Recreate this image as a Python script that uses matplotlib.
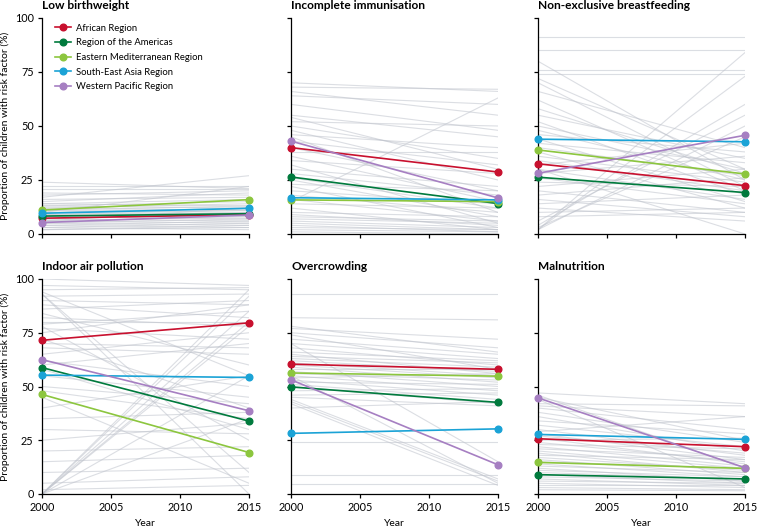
import numpy as np
import matplotlib
matplotlib.use("Agg")
import matplotlib.pyplot as plt

plt.rcParams['font.family'] = ['Lato', 'DejaVu Sans']

years = [2000, 2015]
regions = ['African Region', 'Region of the Americas', 'Eastern Mediterranean Region',
           'South-East Asia Region', 'Western Pacific Region']
region_colors = ['#c8102e', '#007a3d', '#8cc63e', '#1ba3d6', '#a67fc2']

titles = ['Low birthweight', 'Incomplete immunisation', 'Non-exclusive breastfeeding',
          'Indoor air pollution', 'Overcrowding', 'Malnutrition']

# regional values, (2000, 2015) per region, in region order
lbw_regions = [(7.3, 9.0), (8.3, 9.4), (11.1, 15.9), (9.6, 11.9), (5.3, 8.8)]
imm_regions = [(40.0, 28.7), (26.4, 14.1), (15.8, 15.0), (16.8, 15.8), (43.0, 16.7)]
bf_regions = [(32.5, 22.4), (26.3, 19.2), (38.9, 27.8), (43.9, 42.7), (28.1, 45.7)]
iap_regions = [(71.5, 79.6), (58.8, 33.9), (46.3, 19.3), (55.3, 54.2), (62.5, 38.7)]
oc_regions = [(60.4, 58.0), (49.8, 42.6), (56.3, 54.8), (28.2, 30.3), (53.1, 13.6)]
mn_regions = [(25.7, 22.0), (9.0, 7.0), (14.7, 11.9), (27.7, 25.4), (44.7, 12.2)]

# country values (grey), 2000 and 2015
lbw_2000 = [24, 22, 21, 19, 18, 17, 16, 15, 14, 13, 13, 12, 12, 11, 11, 10, 10, 9, 9, 8, 8, 7, 7, 6, 6, 5, 5, 4, 4, 3, 3, 2, 2, 10, 14, 6]
lbw_2015 = [21, 22, 21, 18, 20, 27, 17, 19, 13, 15, 12, 14, 11, 13, 10, 12, 9, 11, 8, 10, 7, 9, 6, 8, 5, 7, 4, 6, 3, 5, 2, 4, 3, 22, 16, 12]

imm_2000 = [70, 68, 66, 64, 55, 54, 52, 50, 48, 46, 45, 43, 40, 38, 36, 34, 32, 30, 28, 26, 25, 23, 22, 20, 18, 16, 14, 12, 10, 9, 8, 7, 6, 5, 4, 3, 2, 1, 15, 60]
imm_2015 = [66, 67, 55, 60, 45, 30, 50, 35, 25, 40, 10, 32, 20, 38, 15, 28, 5, 22, 18, 12, 8, 20, 3, 14, 10, 6, 12, 2, 8, 4, 6, 5, 3, 2, 1, 2, 1, 0, 63, 48]

bf_2000 = [91, 85, 80, 76, 74, 72, 70, 66, 62, 58, 55, 52, 50, 48, 46, 44, 42, 40, 38, 36, 34, 32, 30, 28, 26, 24, 22, 20, 18, 16, 14, 12, 10, 8, 6, 4, 2, 2, 2, 3, 30]
bf_2015 = [91, 85, 25, 76, 74, 30, 22, 40, 20, 28, 35, 18, 30, 25, 38, 15, 33, 27, 12, 24, 20, 42, 16, 36, 14, 22, 30, 10, 26, 8, 18, 6, 12, 10, 55, 60, 84, 73, 50, 45, 0]

iap_2000 = [100, 97, 95, 94, 93, 93, 92, 90, 88, 86, 84, 82, 80, 79, 78, 77, 75, 72, 70, 68, 65, 62, 60, 58, 55, 50, 48, 45, 40, 35, 30, 25, 20, 15, 10, 5, 2, 0, 0, 0, 0, 0, 0, 0, 0]
iap_2015 = [97, 95, 96, 55, 10, 0, 93, 88, 82, 90, 60, 78, 80, 85, 25, 72, 88, 40, 68, 65, 75, 50, 70, 30, 45, 42, 35, 5, 55, 38, 28, 33, 22, 18, 12, 8, 4, 95, 92, 85, 80, 78, 55, 35, 0]

oc_2000 = [93, 82, 78, 77, 75, 74, 72, 70, 68, 66, 65, 64, 63, 62, 61, 60, 59, 58, 57, 56, 55, 54, 53, 52, 51, 50, 48, 46, 45, 44, 43, 42, 40, 24, 9, 4.5, 70, 55]
oc_2015 = [93, 81, 66, 72, 68, 58, 65, 63, 60, 62, 56, 61, 59, 57, 55, 54, 52, 58, 50, 53, 48, 56, 46, 51, 44, 42, 49, 47, 41, 7, 6, 4, 43, 24, 9, 4.5, 15, 5]

mn_2000 = [47, 46, 45, 44, 42, 40, 38, 36, 34, 32, 30, 29, 28, 27, 26, 25, 24, 23, 22, 21, 20, 19, 18, 17, 16, 15, 14, 13, 12, 11, 10, 9, 8, 7, 6, 5, 4, 3, 2, 41]
mn_2015 = [42, 12, 25, 3, 41, 30, 24, 20, 28, 22, 18, 36, 16, 19, 14, 26, 15, 21, 13, 17, 12, 10, 16, 11, 9, 12, 8, 10, 6, 8, 7, 5, 6, 4, 5, 3, 4, 2, 1.5, 36]

grey_data = [(lbw_2000, lbw_2015), (imm_2000, imm_2015), (bf_2000, bf_2015),
             (iap_2000, iap_2015), (oc_2000, oc_2015), (mn_2000, mn_2015)]
region_data = [lbw_regions, imm_regions, bf_regions, iap_regions, oc_regions, mn_regions]

W, H = 758, 528
fig = plt.figure(figsize=(W / 100, H / 100), dpi=100)

lefts = [42, 291, 538]
tops = [18, 279]
bottoms = [234, 494]
pw = 207

for i in range(6):
    r, c = divmod(i, 3)
    ax = fig.add_axes([lefts[c] / W, 1 - bottoms[r] / H, pw / W, (bottoms[r] - tops[r]) / H])

    g0, g1 = grey_data[i]
    for a, b in zip(g0, g1):
        ax.plot(years, [a, b], color='#bfc3cc', lw=0.8, alpha=0.55, zorder=1)

    for k, (a, b) in enumerate(region_data[i]):
        ax.plot(years, [a, b], color=region_colors[k], lw=1.2, marker='o', ms=4.8,
                label=regions[k], clip_on=False, zorder=3)

    ax.set_xlim(2000, 2015)
    ax.set_ylim(0, 100)
    ax.set_xticks([2000, 2005, 2010, 2015])
    ax.set_yticks([0, 25, 50, 75, 100])
    ax.spines['top'].set_visible(False)
    ax.spines['right'].set_visible(False)
    ax.spines['left'].set_linewidth(0.9)
    ax.spines['bottom'].set_linewidth(0.9)
    ax.tick_params(length=3, width=0.9, labelsize=7.8, pad=3)
    if c != 0:
        ax.set_yticklabels([])
    else:
        ax.set_ylabel('Proportion of children with risk factor (%)', fontsize=7.5, labelpad=3)
    if r == 0:
        ax.set_xticklabels([])
    else:
        ax.set_xlabel('Year', fontsize=7.5, labelpad=4)

    ax.annotate(titles[i], xy=(0, 1), xycoords='axes fraction', xytext=(0, 9.0),
                textcoords='offset points', ha='left', va='center',
                fontsize=8.6, fontweight='bold')

    if i == 0:
        ax.legend(loc='upper left', bbox_to_anchor=(0.035, 1.0), frameon=False,
                  fontsize=6.8, handlelength=1.75, handletextpad=0.45, labelspacing=0.6,
                  borderaxespad=0.2)

fig.savefig('out.png', dpi=100)
